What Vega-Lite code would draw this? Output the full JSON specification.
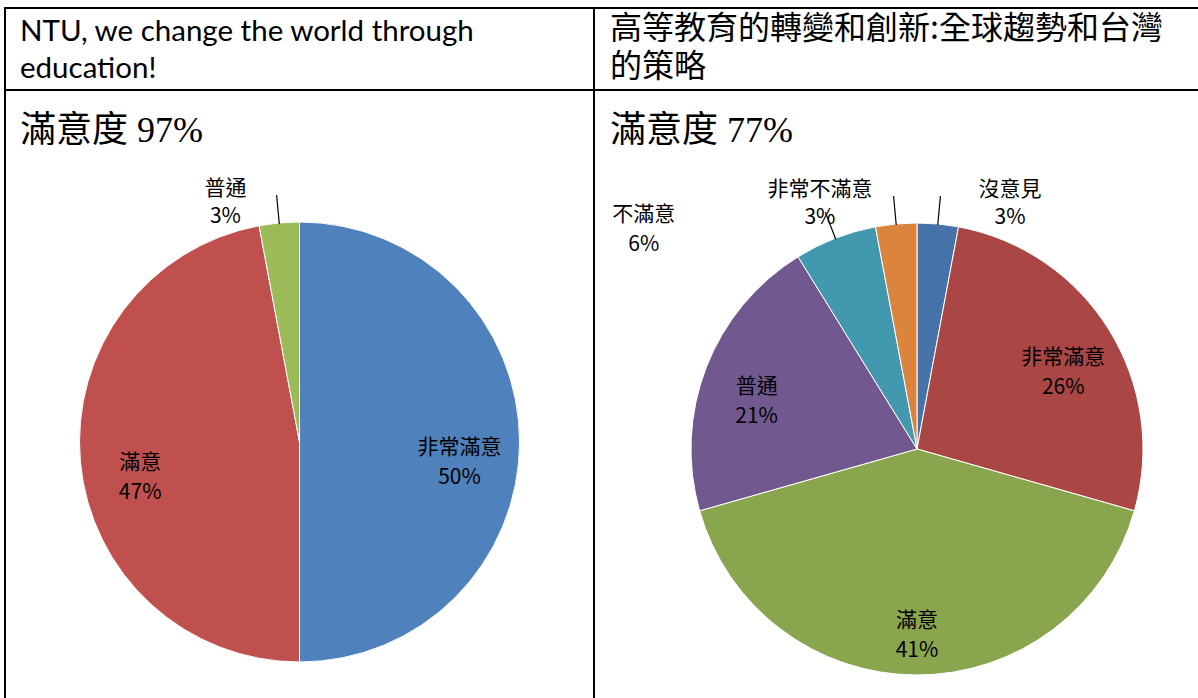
{
  "$schema": "https://vega.github.io/schema/vega-lite/v6.json",
  "background": "white",
  "padding": {"left": 4, "top": 7, "right": 0, "bottom": 0},
  "config": {
    "view": {"stroke": "black", "strokeWidth": 2},
    "title": {"anchor": "start", "frame": "group", "orient": "top", "offset": 0, "color": "black", "fontWeight": "normal"}
  },
  "datasets": {
    "ntu": [
      {"k": 1, "name": "非常滿意", "share": 0.5},
      {"k": 2, "name": "滿意", "share": 0.4706},
      {"k": 3, "name": "普通", "share": 0.0294}
    ],
    "edu": [
      {"k": 1, "name": "沒意見", "share": 0.0294},
      {"k": 2, "name": "非常滿意", "share": 0.2647},
      {"k": 3, "name": "滿意", "share": 0.4118},
      {"k": 4, "name": "普通", "share": 0.2059},
      {"k": 5, "name": "不滿意", "share": 0.0588},
      {"k": 6, "name": "非常不滿意", "share": 0.0294}
    ]
  },
  "columns": 2,
  "spacing": 0,
  "bounds": "flush",
  "resolve": {"scale": {"color": "independent", "theta": "independent"}},
  "concat": [
    {
      "width": 589, "height": 82,
      "view": {"stroke": "black", "strokeWidth": 2},
      "data": {"values": []},
      "mark": "text",
      "title": {"text": ["NTU, we change the world through", "education!"], "font": "Lato", "fontSize": 29.5, "lineHeight": 37, "dx": 15, "dy": 80}
    },
    {
      "width": 646, "height": 82,
      "view": {"stroke": "black", "strokeWidth": 2},
      "data": {"values": []},
      "mark": "text",
      "title": {"text": ["高等教育的轉變和創新:全球趨勢和台灣", "的策略"], "font": "Noto Sans CJK TC", "fontSize": 32, "lineHeight": 38, "dx": 16, "dy": 80}
    },
    {
      "width": 589, "height": 704,
      "view": {"stroke": "black", "strokeWidth": 2},
      "data": {"name": "ntu"},
      "title": {"text": "滿意度 97%", "font": "Liberation Serif, Noto Sans CJK TC", "fontSize": 36, "dx": 15, "dy": 64},
      "transform": [
        {"stack": "share", "groupby": [], "sort": [{"field": "k", "order": "ascending"}], "as": ["s0", "s1"]},
        {"calculate": "(datum.s0 + datum.s1) / 2", "as": "mid"},
        {"calculate": "datum.name + '\\n' + format(datum.share, '.0%')", "as": "lab"}
      ],
      "layer": [
        {
          "mark": {"type": "arc", "outerRadius": 220, "stroke": "white", "strokeWidth": 1},
          "encoding": {
            "theta": {"field": "s0", "type": "quantitative", "stack": null, "scale": {"domain": [0, 1]}},
            "theta2": {"field": "s1"},
            "color": {"field": "name", "type": "nominal", "legend": null,
              "scale": {"domain": ["非常滿意", "滿意", "普通"], "range": ["#4F81BD", "#C0504D", "#9BBB59"]}}
          }
        },
        {
          "transform": [{"filter": "datum.share < 0.1"}],
          "mark": {"type": "arc", "radius": 248, "radius2": 219, "fill": "transparent", "stroke": "black", "strokeWidth": 1.2},
          "encoding": {
            "theta": {"field": "mid", "type": "quantitative", "stack": null},
            "theta2": {"field": "mid"}
          }
        },
        {
          "transform": [{"filter": "datum.share > 0.1"}],
          "mark": {"type": "text", "radius": 160, "dy": 6, "lineBreak": "\n", "lineHeight": 30, "font": "Noto Sans CJK TC", "fontSize": 21, "color": "black"},
          "encoding": {
            "theta": {"field": "mid", "type": "quantitative", "stack": null},
            "text": {"field": "lab"}
          }
        },
        {
          "transform": [{"filter": "datum.share < 0.1"}],
          "mark": {"type": "text", "radius": 250, "dx": -51, "dy": -4, "lineBreak": "\n", "lineHeight": 28, "font": "Noto Sans CJK TC", "fontSize": 21, "color": "black"},
          "encoding": {
            "theta": {"field": "mid", "type": "quantitative", "stack": null},
            "text": {"field": "lab"}
          }
        }
      ]
    },
    {
      "width": 646, "height": 718,
      "view": {"stroke": "black", "strokeWidth": 2},
      "data": {"name": "edu"},
      "title": {"text": "滿意度 77%", "font": "Liberation Serif, Noto Sans CJK TC", "fontSize": 36, "dx": 16, "dy": 64},
      "transform": [
        {"stack": "share", "groupby": [], "sort": [{"field": "k", "order": "ascending"}], "as": ["s0", "s1"]},
        {"calculate": "(datum.s0 + datum.s1) / 2", "as": "mid"},
        {"calculate": "datum.name + '\\n' + format(datum.share, '.0%')", "as": "lab"}
      ],
      "layer": [
        {
          "mark": {"type": "arc", "outerRadius": 226, "stroke": "white", "strokeWidth": 1},
          "encoding": {
            "theta": {"field": "s0", "type": "quantitative", "stack": null, "scale": {"domain": [0, 1]}},
            "theta2": {"field": "s1"},
            "color": {"field": "name", "type": "nominal", "legend": null,
              "scale": {"domain": ["沒意見", "非常滿意", "滿意", "普通", "不滿意", "非常不滿意"],
                        "range": ["#4572A7", "#AA4643", "#89A54E", "#71588F", "#4198AF", "#DB843D"]}}
          }
        },
        {
          "transform": [{"filter": "datum.share < 0.1"}],
          "mark": {"type": "arc", "radius": 254, "radius2": 225, "fill": "transparent", "stroke": "black", "strokeWidth": 1.2},
          "encoding": {
            "theta": {"field": "mid", "type": "quantitative", "stack": null},
            "theta2": {"field": "mid"}
          }
        },
        {
          "transform": [{"filter": "datum.share > 0.1"}],
          "mark": {"type": "text", "radius": 172, "dy": 0, "lineBreak": "\n", "lineHeight": 30, "font": "Noto Sans CJK TC", "fontSize": 21, "color": "black"},
          "encoding": {
            "theta": {"field": "mid", "type": "quantitative", "stack": null},
            "text": {"field": "lab"}
          }
        },
        {
          "transform": [{"filter": "datum.name == '沒意見'"}],
          "mark": {"type": "text", "radius": 250, "dx": 70, "dy": -10, "lineBreak": "\n", "lineHeight": 28, "font": "Noto Sans CJK TC", "fontSize": 21, "color": "black"},
          "encoding": {
            "theta": {"field": "mid", "type": "quantitative", "stack": null},
            "text": {"field": "lab"}
          }
        },
        {
          "transform": [{"filter": "datum.name == '非常不滿意'"}],
          "mark": {"type": "text", "radius": 250, "dx": -74, "dy": -10, "lineBreak": "\n", "lineHeight": 28, "font": "Noto Sans CJK TC", "fontSize": 21, "color": "black"},
          "encoding": {
            "theta": {"field": "mid", "type": "quantitative", "stack": null},
            "text": {"field": "lab"}
          }
        },
        {
          "transform": [{"filter": "datum.name == '不滿意'"}],
          "mark": {"type": "text", "radius": 250, "dx": -183, "dy": -1, "lineBreak": "\n", "lineHeight": 30, "font": "Noto Sans CJK TC", "fontSize": 21, "color": "black"},
          "encoding": {
            "theta": {"field": "mid", "type": "quantitative", "stack": null},
            "text": {"field": "lab"}
          }
        }
      ]
    }
  ]
}
